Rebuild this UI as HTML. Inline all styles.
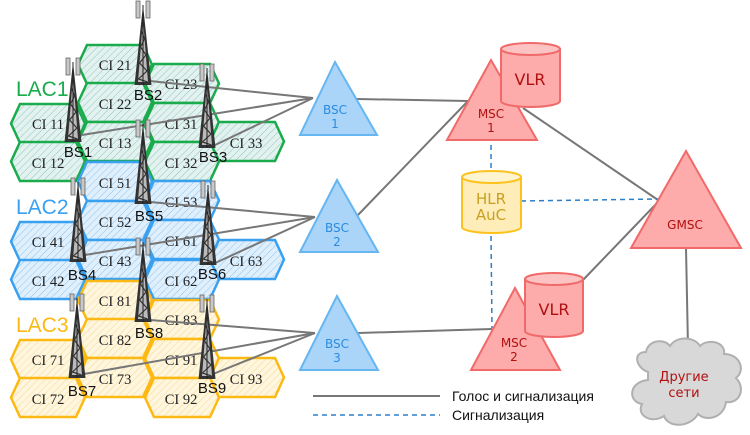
<!DOCTYPE html>
<html><head><meta charset="utf-8"><style>
html,body{margin:0;padding:0;background:#fff;}
svg{display:block}
</style></head><body>
<svg width="750" height="435" viewBox="0 0 750 435" xmlns="http://www.w3.org/2000/svg">
<defs>
<pattern id="pg" width="5" height="5" patternUnits="userSpaceOnUse" patternTransform="rotate(45)">
<rect width="5" height="5" fill="#e3f1ef"/><line x1="0" y1="0" x2="0" y2="5" stroke="#8cc8c0" stroke-width="1"/></pattern>
<pattern id="pb" width="5" height="5" patternUnits="userSpaceOnUse" patternTransform="rotate(45)">
<rect width="5" height="5" fill="#e0effc"/><line x1="0" y1="0" x2="0" y2="5" stroke="#8cc4f0" stroke-width="1"/></pattern>
<pattern id="py" width="5" height="5" patternUnits="userSpaceOnUse" patternTransform="rotate(45)">
<rect width="5" height="5" fill="#fff6df"/><line x1="0" y1="0" x2="0" y2="5" stroke="#f8d88a" stroke-width="1"/></pattern>
<path id="hx" d="M0,19.5 L9,0 L65,0 L74,19.5 L65,39 L9,39 Z"/>
<g id="tw">
<rect x="-7" y="-2" width="4" height="17" fill="#c8c8c8" stroke="#666" stroke-width="0.8"/>
<rect x="3" y="-2" width="4" height="17" fill="#c8c8c8" stroke="#666" stroke-width="0.8"/>
<polygon points="0,2 -8.5,82 8.5,82" fill="#333"/>
<polygon points="0,16 -5,79 5,79" fill="#bbb"/>
<polyline points="-1.5,28 1.5,36 -2.5,44 3,52 -3.5,60 4,68 -4.5,76 4.5,79" fill="none" stroke="#333" stroke-width="1.2"/>
<line x1="0" y1="2" x2="0" y2="82" stroke="#222" stroke-width="1"/>
</g>
</defs>

<g stroke="#1aab4c" stroke-width="2.5" fill="url(#pg)">
<use href="#hx" x="11" y="104"/><use href="#hx" x="11" y="142"/>
<use href="#hx" x="78" y="45"/><use href="#hx" x="78" y="83"/><use href="#hx" x="78" y="122"/>
<use href="#hx" x="145" y="64"/><use href="#hx" x="145" y="103"/><use href="#hx" x="145" y="142"/>
<use href="#hx" x="210" y="122"/>
</g>
<g stroke="#3aa0f0" stroke-width="2.5" fill="url(#pb)">
<use href="#hx" x="11" y="222"/><use href="#hx" x="11" y="260"/>
<use href="#hx" x="78" y="162"/><use href="#hx" x="78" y="201"/><use href="#hx" x="78" y="240"/>
<use href="#hx" x="145" y="181"/><use href="#hx" x="145" y="220"/><use href="#hx" x="145" y="260"/>
<use href="#hx" x="210" y="240"/>
</g>
<g stroke="#fdb913" stroke-width="2.5" fill="url(#py)">
<use href="#hx" x="11" y="340"/><use href="#hx" x="11" y="378"/>
<use href="#hx" x="78" y="281"/><use href="#hx" x="78" y="319"/><use href="#hx" x="78" y="358"/>
<use href="#hx" x="145" y="300"/><use href="#hx" x="145" y="339"/><use href="#hx" x="145" y="378"/>
<use href="#hx" x="210" y="358"/>
</g>

<g font-family="Liberation Serif, serif" font-size="14.5" fill="#222" text-anchor="middle">
<text x="48" y="129">CI 11</text><text x="48" y="168">CI 12</text>
<text x="115" y="70">CI 21</text><text x="115" y="109">CI 22</text><text x="115" y="148">CI 13</text>
<text x="181" y="89">CI 23</text><text x="181" y="129">CI 31</text><text x="181" y="168">CI 32</text>
<text x="246" y="148">CI 33</text>
<text x="48" y="247">CI 41</text><text x="48" y="286">CI 42</text>
<text x="115" y="188">CI 51</text><text x="115" y="227">CI 52</text><text x="115" y="266">CI 43</text>
<text x="181" y="207">CI 53</text><text x="181" y="246">CI 61</text><text x="181" y="286">CI 62</text>
<text x="246" y="266">CI 63</text>
<text x="48" y="365">CI 71</text><text x="48" y="404">CI 72</text>
<text x="115" y="306">CI 81</text><text x="115" y="345">CI 82</text><text x="115" y="384">CI 73</text>
<text x="181" y="325">CI 83</text><text x="181" y="365">CI 91</text><text x="181" y="404">CI 92</text>
<text x="246" y="384">CI 93</text>
</g>

<g font-family="Liberation Sans, sans-serif" font-size="21">
<text x="16" y="96" fill="#1aab4c">LAC1</text>
<text x="16" y="214" fill="#3aa0f0">LAC2</text>
<text x="16" y="332" fill="#fdb913">LAC3</text>
</g>

<g stroke="#777" stroke-width="2" fill="none">
<line x1="150" y1="81" x2="313" y2="98"/><line x1="82" y1="135" x2="313" y2="98"/><line x1="213" y1="146" x2="313" y2="98"/>
<line x1="150" y1="202" x2="315" y2="217"/><line x1="85" y1="255" x2="315" y2="217"/><line x1="213" y1="264" x2="315" y2="217"/>
<line x1="150" y1="320" x2="315" y2="333"/><line x1="84" y1="374" x2="315" y2="333"/><line x1="213" y1="374" x2="315" y2="333"/>
<line x1="357" y1="99" x2="468" y2="101"/>
<line x1="358" y1="215" x2="468" y2="101"/>
<line x1="523" y1="108" x2="658" y2="200"/>
<line x1="358" y1="333" x2="492" y2="329"/>
<line x1="583" y1="280" x2="658" y2="202"/>
<line x1="686" y1="248" x2="688" y2="347"/>
<line x1="313" y1="396" x2="440" y2="396"/>
</g>
<g stroke="#2a7fc8" stroke-width="1.5" stroke-dasharray="5,4" fill="none">
<line x1="491" y1="145" x2="491" y2="170"/>
<line x1="491" y1="236" x2="492" y2="328"/>
<line x1="521" y1="201" x2="658" y2="199"/>
<line x1="313" y1="415" x2="440" y2="415"/>
</g>

<use href="#tw" transform="translate(73,60)"/>
<use href="#tw" transform="translate(143,3)"/>
<use href="#tw" transform="translate(207,66)"/>
<use href="#tw" transform="translate(78,180)"/>
<use href="#tw" transform="translate(143,122)"/>
<use href="#tw" transform="translate(208,183)"/>
<use href="#tw" transform="translate(77,296)"/>
<use href="#tw" transform="translate(143,240)"/>
<use href="#tw" transform="translate(207,297)"/>
<g font-family="Liberation Sans, sans-serif" font-size="15" fill="#111" text-anchor="middle">
<text x="78" y="157">BS1</text><text x="148" y="100">BS2</text><text x="213" y="162">BS3</text>
<text x="82" y="280">BS4</text><text x="149" y="221">BS5</text><text x="212" y="279">BS6</text>
<text x="82" y="396">BS7</text><text x="149" y="338">BS8</text><text x="212" y="393">BS9</text>
</g>

<g fill="#aad4f8" stroke="#66b6f2" stroke-width="2">
<polygon points="335,62 300,135 377,135"/>
<polygon points="337,180 300,252 378,252"/>
<polygon points="337,296 300,370 378,370"/>
</g>
<g font-family="DejaVu Sans, sans-serif" font-size="12" fill="#2a8ce0" text-anchor="middle">
<text x="335" y="114">BSC</text><text x="335" y="128">1</text>
<text x="337" y="232">BSC</text><text x="337" y="246">2</text>
<text x="337" y="348">BSC</text><text x="337" y="362">3</text>
</g>

<g fill="#fdabab" stroke="#f06a6a" stroke-width="2">
<polygon points="491,60 447,140 537,140"/>
<path d="M501,49 L501,101 A29.5,6 0 0 0 560,101 L560,49"/>
<ellipse cx="530.5" cy="49" rx="29.5" ry="6" fill="#fdc3c3"/>
<polygon points="515,288 471,370 560,370"/>
<path d="M525,279 L525,331 A29,6 0 0 0 583,331 L583,279"/>
<ellipse cx="554" cy="279" rx="29" ry="6" fill="#fdc3c3"/>
<polygon points="686,151 631,248 741,248"/>
</g>
<g font-family="DejaVu Sans, sans-serif" fill="#b01010" text-anchor="middle">
<text x="530" y="85" font-size="16">VLR</text>
<text x="554" y="315" font-size="16">VLR</text>
<text x="491" y="118" font-size="12">MSC</text><text x="491" y="132" font-size="12">1</text>
<text x="514" y="347" font-size="12">MSC</text><text x="514" y="361" font-size="12">2</text>
<text x="685" y="229" font-size="12">GMSC</text>
</g>

<path d="M462,177 L462,227 A29.5,6 0 0 0 521,227 L521,177" fill="#feedb8" stroke="#fdc21c" stroke-width="2"/>
<ellipse cx="491.5" cy="177" rx="29.5" ry="6" fill="#fff4d0" stroke="#fdc21c" stroke-width="2"/>
<g font-family="DejaVu Sans, sans-serif" font-size="15" fill="#c8a020" text-anchor="middle">
<text x="491" y="204">HLR</text><text x="491" y="220">AuC</text>
</g>

<path d="M648,372 C636,368 632,352 646,352 C648,340 664,338 670,346 C676,336 694,336 700,346 C708,338 726,342 724,354 C740,354 746,370 736,378 C746,388 740,404 726,402 C724,418 706,422 698,414 C690,428 668,428 664,416 C652,424 636,416 642,404 C628,402 628,382 648,380 Z" fill="#d8d8d8" stroke="#b0b0b0" stroke-width="2"/>
<g font-family="DejaVu Sans, sans-serif" font-size="13" fill="#b01010" text-anchor="middle">
<text x="684" y="381">Другие</text><text x="684" y="397">сети</text>
</g>

<g font-family="Liberation Sans, sans-serif" font-size="14" fill="#111">
<text x="452" y="401">Голос и сигнализация</text>
<text x="452" y="420">Сигнализация</text>
</g>
</svg>
</body></html>
